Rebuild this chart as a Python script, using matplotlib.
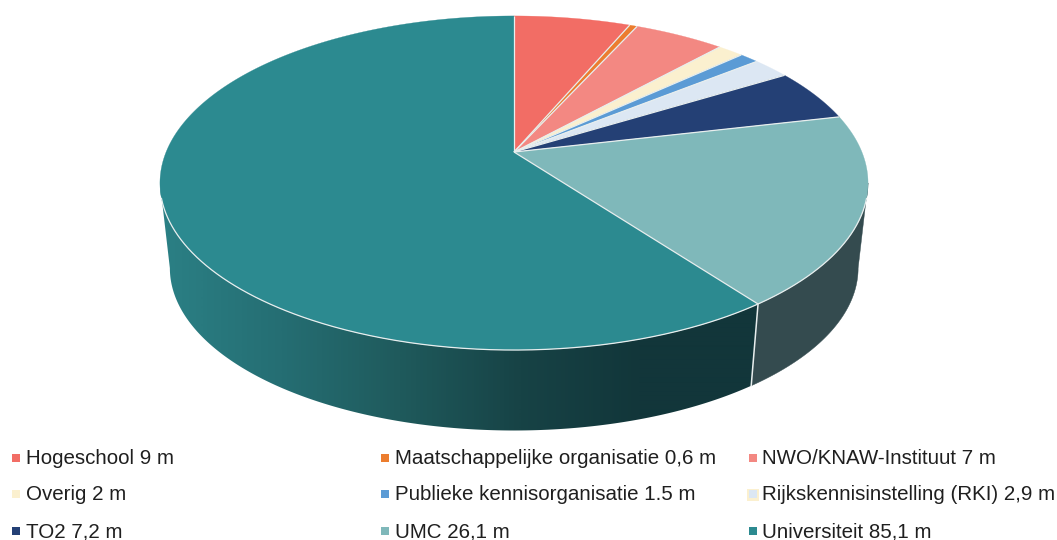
import numpy as np
import matplotlib
matplotlib.use("Agg")
import matplotlib.pyplot as plt
from matplotlib.patches import Polygon
from matplotlib.colors import LinearSegmentedColormap

categories = ["Hogeschool", "Maatschappelijke organisatie", "NWO/KNAW-Instituut",
              "Overig", "Publieke kennisorganisatie", "Rijkskennisinstelling (RKI)",
              "TO2", "UMC", "Universiteit"]
values = [9, 0.6, 7, 2, 1.5, 2.9, 7.2, 26.1, 85.1]
value_labels = ["9", "0,6", "7", "2", "1.5", "2,9", "7,2", "26,1", "85,1"]
colors = ["#F26D65", "#EC7D2E", "#F38882", "#FBF0CF", "#5B9BD5",
          "#DCE7F3", "#244075", "#7FB8BA", "#2C8A90"]
wall_gradient = ["#2B8085", "#256E73", "#1F5A5C", "#174346", "#12363A", "#12363A"]
wall_umc = "#344B4F"

plt.rcParams["font.family"] = ["Liberation Sans", "DejaVu Sans"]
fig = plt.figure(figsize=(10.57, 5.40), dpi=100)
ax = fig.add_axes([0, 0, 1, 1])
ax.set_xlim(0, 1057)
ax.set_ylim(540, 0)
ax.axis("off")

# perspective disc
P = 0.1855
A, B = 347.9, 161.3
CX, CY_TOP, CY_BOT, S_BOT = 514.0, 152.0, 238.0, 0.972
SIL_R = np.arccos(-P)
SIL_L = 2 * np.pi - SIL_R


def project(theta, bottom=False):
    u, v = np.sin(theta), -np.cos(theta)
    w = 1 - P * v
    s = S_BOT if bottom else 1.0
    cy = CY_BOT if bottom else CY_TOP
    return CX + s * A * u / w, cy + s * B * v / w


def wall_outline(a0, a1):
    th = np.linspace(a0, a1, 300)
    xt, yt = project(th)
    xb, yb = project(th[::-1], True)
    return np.column_stack([np.r_[xt, xb], np.r_[yt, yb]])


cum = np.cumsum([0] + values) / sum(values) * 2 * np.pi
EDGE = "#E8EEEE"

# side wall: UMC part, flat colour
ax.add_patch(Polygon(wall_outline(SIL_R, cum[-2]), closed=True, fc=wall_umc, ec=wall_umc,
                     lw=0.3, zorder=2))

# side wall: Universiteit part, horizontal gradient clipped to the wall
cmap = LinearSegmentedColormap.from_list("wall", wall_gradient[::-1])
clip = Polygon(wall_outline(cum[-2], SIL_L), closed=True, fc="none", ec="none",
               transform=ax.transData)
ax.add_patch(clip)
im = ax.imshow(np.linspace(0, 1, 600)[None, :], cmap=cmap, aspect="auto",
               extent=(760, 160, 440, 150), zorder=2, interpolation="bilinear")
im.set_clip_path(clip)
ax.set_xlim(0, 1057)
ax.set_ylim(540, 0)

# seam between the two front wall faces
xa, ya = project(cum[-2]); xb, yb = project(cum[-2], True)
ax.plot([xa, xb], [ya, yb], color=EDGE, lw=1.1, zorder=3)

# top face
for i, col in enumerate(colors):
    th = np.linspace(cum[i], cum[i + 1], max(int((cum[i + 1] - cum[i]) * 120), 3))
    xs, ys = project(th)
    pts = [(CX, CY_TOP)] + list(zip(xs, ys))
    ax.add_patch(Polygon(pts, closed=True, fc=col, ec=col, lw=0.2, zorder=4))

# slice borders
for a in cum[:-1]:
    x, y = project(a)
    ax.plot([CX, x], [CY_TOP, y], color=EDGE, lw=0.9, zorder=5, solid_capstyle="butt")

# bright rim along the visible front of the disc
th = np.linspace(SIL_R + 0.09, SIL_L - 0.09, 400)
xs, ys = project(th)
ax.plot(xs, ys, color=EDGE, lw=0.9, zorder=5)

# legend
leg_x = [11.5, 380.5, 748.0]
leg_y = [458, 494, 531]
for i, (cat, lab, col) in enumerate(zip(categories, value_labels, colors)):
    r, c = i // 3, i % 3
    if cat.startswith("Rijks"):
        ax.scatter([leg_x[c] + 4.5], [leg_y[r] + 1], marker="s", s=72, color=colors[3],
                   lw=0, zorder=5)
    ax.scatter([leg_x[c] + 4.5], [leg_y[r]], marker="s", s=33, color=col, lw=0, zorder=6)
    ax.text(leg_x[c] + 14.5, leg_y[r] + 1, f"{cat} {lab} m", fontsize=14.8, color="#1F1F1F",
            va="center", ha="left", zorder=6)

fig.savefig("out.png", dpi=100)
